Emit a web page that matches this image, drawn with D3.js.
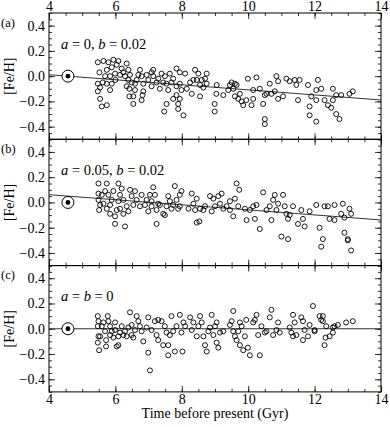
<!DOCTYPE html>
<html><head><meta charset="utf-8">
<script src="https://cdn.jsdelivr.net/npm/d3@7"></script>
<style>
body{margin:0;background:#fff}
svg{display:block}
text{font-family:"Liberation Serif","Times New Roman",serif;fill:#000}
</style>
</head><body>
<svg id="chart" width="390" height="427"></svg>
<script>
// ---------- data ----------
const xTicks = [4, 6, 8, 10, 12, 14];
const yTicks = [-0.4, -0.2, 0.0, 0.2, 0.4];
const panelLabels = ["(a)", "(b)", "(c)"];
const paramA = [0, 0.05, 0];
const paramB = [0.02, 0.02, 0];
const sunAge = 4.57;
const xTitle = "Time before present (Gyr)";
const yTitle = "[Fe/H]";

const panelA = [
[5.47,0.11],[5.52,0.03],[5.47,-0.06],[5.47,-0.12],[5.54,-0.18],[5.59,-0.24],[5.74,-0.23],[5.54,-0.09],[5.62,-0.05],
[5.64,0.12],[5.79,0.11],[5.94,0.13],[5.89,0.07],[5.74,0.05],[5.69,0.0],[5.84,0.0],[5.99,0.02],[6.04,0.09],[6.09,0.12],
[5.74,-0.06],[5.89,-0.06],[5.84,-0.11],[6.0,-0.03],[6.14,0.01],[6.19,0.06],[6.24,0.03],[6.29,0.0],[6.34,0.10],[6.39,0.05],
[6.44,0.01],[6.39,-0.03],[6.34,-0.08],[6.42,-0.10],[6.42,-0.16],[6.54,-0.16],[6.54,-0.22],[6.59,-0.11],[6.59,-0.06],
[6.64,-0.03],[6.49,-0.05],[6.69,0.01],[6.74,0.05],[6.79,0.0],[6.84,-0.06],[6.82,-0.15],[6.79,-0.19],[6.84,-0.12],
[6.94,0.01],[6.99,-0.03],[7.09,0.03],[7.14,0.05],[7.14,0.0],[7.09,-0.08],[7.24,-0.05],[7.29,-0.02],[7.34,-0.10],
[7.39,0.02],[7.44,-0.05],[7.49,0.0],[7.54,-0.06],[7.47,-0.28],[7.54,-0.22],[7.59,-0.11],[7.64,0.02],[7.69,-0.05],
[7.74,-0.02],[7.74,-0.18],[7.84,0.06],[7.84,-0.08],[7.84,-0.15],[7.89,-0.26],[7.89,-0.22],[7.94,0.03],[7.94,-0.06],
[7.94,-0.18],[7.99,-0.11],[8.05,-0.31],[8.1,0.02],[8.15,-0.10],[8.25,-0.05],[8.3,-0.14],[8.35,-0.03],[8.4,0.05],
[8.45,-0.03],[8.5,0.02],[8.55,-0.07],[8.55,-0.16],[8.6,-0.03],[8.65,-0.09],[8.75,0.02],[8.75,-0.06],[8.7,-0.02],
[8.99,-0.22],[8.99,-0.28],[9.04,-0.14],[9.05,-0.07],[9.25,-0.15],[9.4,-0.11],[9.45,-0.07],[9.5,-0.05],[9.55,-0.10],
[9.6,-0.06],[9.6,-0.16],[9.65,-0.07],[9.7,-0.18],[9.75,-0.14],[9.8,-0.20],[9.85,-0.23],[9.94,-0.19],[9.99,-0.02],
[10.1,-0.23],[10.15,-0.18],[10.15,-0.11],[10.25,-0.01],[10.35,-0.10],[10.45,-0.22],[10.5,-0.34],[10.5,-0.38],
[10.5,-0.15],[10.55,-0.14],[10.65,-0.06],[10.7,-0.14],[10.8,-0.12],[10.85,0.0],[10.9,-0.04],[10.9,-0.18],[11.05,-0.16],
[11.15,-0.02],[11.25,-0.04],[11.4,-0.03],[11.45,-0.07],[11.5,-0.19],[11.55,-0.03],[11.8,-0.07],[11.85,-0.24],
[11.85,-0.31],[11.9,-0.16],[12.05,-0.11],[12.05,-0.19],[12.1,-0.03],[12.05,-0.36],[12.2,-0.10],[12.3,-0.19],
[12.4,-0.23],[12.5,-0.25],[12.55,-0.19],[12.55,-0.10],[12.65,-0.15],[12.65,-0.30],[12.75,-0.34],[12.8,-0.15],
[13.05,-0.14],[13.15,-0.12]
];

const panelB = [
[5.49,0.15],[5.49,0.07],[5.49,0.02],[5.51,-0.06],[5.54,-0.02],[5.59,0.06],[5.64,-0.01],[5.69,0.09],[5.74,0.15],
[5.79,0.06],[5.74,-0.05],[5.84,-0.02],[5.84,-0.09],[5.89,0.02],[5.94,0.09],[5.99,-0.11],[5.99,-0.17],[6.04,-0.06],
[6.09,0.01],[6.09,0.15],[6.14,0.06],[6.14,-0.05],[6.19,0.11],[6.24,0.02],[6.24,-0.09],[6.29,-0.19],[6.34,-0.03],
[6.39,-0.07],[6.44,0.10],[6.49,0.05],[6.54,-0.02],[6.59,0.09],[6.64,0.02],[6.74,-0.03],[6.79,0.06],[6.89,-0.02],
[6.94,0.02],[6.99,-0.07],[7.04,0.06],[7.09,0.01],[7.09,-0.03],[7.14,0.12],[7.19,0.06],[7.24,-0.06],[7.29,-0.01],
[7.34,-0.02],[7.44,-0.09],[7.49,-0.10],[7.24,-0.17],[7.54,-0.03],[7.59,0.05],[7.64,0.01],[7.69,-0.05],[7.74,-0.02],
[7.79,0.13],[7.84,0.02],[7.89,-0.05],[7.94,0.06],[7.94,-0.03],[7.99,0.09],[8.2,-0.05],[8.3,0.07],[8.35,-0.01],
[8.4,-0.06],[8.45,0.03],[8.45,-0.16],[8.53,-0.15],[8.55,-0.05],[8.65,-0.06],[8.7,-0.03],[8.85,0.05],[8.95,0.03],
[8.9,-0.07],[9.0,-0.03],[9.1,0.05],[9.15,-0.01],[9.2,0.07],[9.25,-0.05],[9.35,-0.03],[9.45,0.01],[9.45,-0.06],
[9.55,-0.11],[9.6,0.03],[9.65,0.15],[9.7,-0.03],[9.73,0.10],[9.9,-0.05],[9.95,-0.14],[10.05,-0.06],[10.15,-0.03],
[10.2,-0.13],[10.25,-0.02],[10.35,-0.21],[10.45,0.08],[10.55,-0.06],[10.65,-0.03],[10.7,-0.14],[10.75,0.02],
[10.8,0.06],[10.85,-0.06],[10.9,-0.01],[11.0,-0.27],[11.05,0.06],[11.1,-0.03],[11.15,-0.09],[11.2,-0.29],[11.2,-0.13],
[11.25,-0.10],[11.35,-0.03],[11.5,-0.17],[11.6,-0.06],[11.65,-0.13],[11.7,-0.19],[11.85,-0.07],[12.05,-0.02],
[12.15,-0.20],[12.2,-0.35],[12.25,-0.29],[12.3,-0.03],[12.4,-0.03],[12.45,-0.13],[12.6,-0.14],[12.6,-0.02],
[12.8,-0.09],[12.85,-0.01],[12.9,-0.24],[12.9,-0.12],[13.0,-0.30],[13.05,-0.05],[13.1,-0.09],[13.1,-0.38],[13.0,-0.29]
];

const panelC = [
[5.47,0.10],[5.49,0.06],[5.47,0.02],[5.49,-0.06],[5.47,-0.11],[5.51,-0.17],[5.54,-0.06],[5.59,0.02],[5.64,0.05],
[5.69,-0.02],[5.72,-0.09],[5.72,-0.14],[5.77,0.10],[5.79,0.06],[5.84,0.02],[5.84,-0.05],[5.89,-0.02],[5.94,-0.07],
[5.99,0.05],[5.99,-0.01],[6.04,-0.14],[6.09,-0.13],[6.09,-0.06],[6.14,-0.03],[6.19,0.02],[6.24,-0.05],[6.29,-0.02],
[6.34,-0.06],[6.39,0.01],[6.44,0.13],[6.49,0.03],[6.49,-0.05],[6.54,-0.07],[6.59,-0.01],[6.64,0.10],[6.69,0.06],
[6.74,0.02],[6.79,-0.02],[6.84,-0.10],[6.94,0.01],[6.99,0.09],[6.99,-0.19],[7.04,-0.33],[7.09,-0.01],[7.19,0.06],
[7.24,-0.05],[7.29,-0.09],[7.29,0.07],[7.39,0.06],[7.44,-0.13],[7.49,0.02],[7.54,-0.03],[7.59,-0.21],[7.59,-0.13],
[7.64,-0.05],[7.69,0.10],[7.74,-0.02],[7.79,-0.18],[7.84,0.02],[7.94,0.11],[7.99,-0.03],[8.02,-0.18],[8.05,0.05],
[8.1,0.02],[8.25,0.09],[8.3,-0.01],[8.35,0.05],[8.45,-0.06],[8.5,0.02],[8.55,0.10],[8.6,0.05],[8.65,-0.06],
[8.7,-0.13],[8.75,-0.18],[8.8,-0.02],[8.85,0.01],[8.9,0.11],[8.95,-0.05],[9.0,0.02],[9.05,0.05],[9.05,-0.11],
[9.1,-0.15],[9.15,-0.03],[9.25,-0.02],[9.45,0.03],[9.5,0.06],[9.55,0.14],[9.55,-0.02],[9.6,-0.06],[9.65,-0.09],
[9.7,-0.02],[9.75,0.05],[9.75,-0.13],[9.8,0.02],[9.85,-0.17],[9.9,-0.06],[9.94,0.07],[9.99,-0.15],[10.05,-0.21],
[10.15,0.05],[10.2,0.07],[10.25,0.11],[10.3,-0.05],[10.35,-0.21],[10.4,0.02],[10.5,-0.03],[10.55,-0.02],[10.65,0.09],
[10.7,0.15],[10.75,-0.05],[10.85,-0.01],[10.9,0.05],[10.95,-0.03],[11.25,0.01],[11.3,-0.03],[11.35,0.11],
[11.35,-0.06],[11.4,0.05],[11.45,-0.05],[11.6,0.09],[11.65,0.06],[11.65,-0.09],[11.7,-0.01],[11.8,-0.06],
[11.85,0.03],[11.95,0.18],[12.0,-0.01],[12.0,-0.02],[12.15,0.10],[12.2,0.07],[12.25,0.10],[12.25,0.06],[12.3,-0.13],
[12.33,-0.07],[12.35,0.02],[12.45,-0.06],[12.55,-0.03],[12.6,0.02],[12.7,0.03],[12.95,0.05],[13.15,0.06],[12.55,0.01]
];
const panels = [panelA, panelB, panelC];

// ---------- layout ----------
const svg = d3.select("#chart");
const left = 49, right = 381;
const top0 = 13, ph = 126.3;
const FONT = "'Liberation Serif','Times New Roman',serif";

const x = d3.scaleLinear().domain([4, 14]).range([left, right]);
const xMinor = d3.range(4, 14.001, 0.5);
const yMinor = d3.range(-0.5, 0.5001, 0.05);
const fmt = d3.format(".1f");

panels.forEach((data, i) => {
  const top = top0 + i * ph;
  const y = d3.scaleLinear().domain([-0.5, 0.5]).range([top + ph, top]);
  const g = svg.append("g");

  const cid = "clip" + i;
  svg.append("clipPath").attr("id", cid).append("rect")
    .attr("x", left).attr("y", top).attr("width", right - left).attr("height", ph);

  // axes with inward ticks
  const axL = d3.axisLeft(y).tickValues(yTicks).tickSize(-6).tickPadding(4).tickFormat(fmt);
  const axLm = d3.axisLeft(y).tickValues(yMinor).tickSize(-3).tickFormat("");
  const axR = d3.axisRight(y).tickValues(yTicks).tickSize(-6).tickFormat("");
  const axRm = d3.axisRight(y).tickValues(yMinor).tickSize(-3).tickFormat("");
  const axT = d3.axisTop(x).tickValues(xTicks).tickSize(-6).tickPadding(2.5).tickFormat(i === 0 ? d3.format("d") : "");
  const axTm = d3.axisTop(x).tickValues(xMinor).tickSize(-3).tickFormat("");
  const axB = d3.axisBottom(x).tickValues(xTicks).tickSize(-6).tickPadding(2.5).tickFormat(i === 2 ? d3.format("d") : "");
  const axBm = d3.axisBottom(x).tickValues(xMinor).tickSize(-3).tickFormat("");

  const place = (ax, tx, ty) => {
    const a = g.append("g").attr("transform", `translate(${tx},${ty})`).call(ax);
    a.attr("font-family", FONT).attr("font-size", 14);
    a.select(".domain").remove();
    a.selectAll("line").attr("stroke", "#000").attr("stroke-width", 0.8);
    a.selectAll("text").style("font-family", FONT).style("font-size", "14px").attr("fill", "#000");
    return a;
  };
  place(axLm, left, 0); place(axL, left, 0);
  place(axRm, right, 0); place(axR, right, 0);
  place(axTm, 0, top); place(axT, 0, top);
  place(axBm, 0, top + ph); place(axB, 0, top + ph);

  g.append("rect").attr("x", left).attr("y", top).attr("width", right - left).attr("height", ph)
    .attr("fill", "none").attr("stroke", "#000").attr("stroke-width", 1);

  // trend line
  const a = paramA[i], b = paramB[i];
  const line = d3.line().x(d => x(d)).y(d => y(a - b * (d - sunAge)));
  g.append("path").datum([4, 14]).attr("d", line).attr("fill", "none")
    .attr("stroke", "#333").attr("stroke-width", 1).attr("clip-path", `url(#${cid})`);

  // points
  g.append("g").selectAll("circle").data(data).join("circle")
    .attr("cx", d => x(d[0])).attr("cy", d => y(d[1])).attr("r", 2.5)
    .attr("fill", "none").attr("stroke", "#000").attr("stroke-width", 0.9);

  // sun symbol
  g.append("circle").attr("cx", x(sunAge)).attr("cy", y(0)).attr("r", 6)
    .attr("fill", "#fff").attr("stroke", "#000").attr("stroke-width", 1);
  g.append("circle").attr("cx", x(sunAge)).attr("cy", y(0)).attr("r", 2.4).attr("fill", "#000");

  // panel label
  g.append("text").attr("x", 1).attr("y", y(0.4) + 1).style("font-size", "12.5px").text(panelLabels[i]);

  // y title
  g.append("text").attr("transform", `translate(14,${y(0)}) rotate(-90)`)
    .attr("text-anchor", "middle").style("font-size", "14px").text(yTitle);

  // annotation
  const ann = g.append("text").attr("x", 61).attr("y", top + 35.5).style("font-size", "14.5px");
  if (i === 2) {
    ann.append("tspan").style("font-style", "italic").text("a");
    ann.append("tspan").text(" = ");
    ann.append("tspan").style("font-style", "italic").text("b");
    ann.append("tspan").text(" = " + paramA[i]);
  } else {
    ann.append("tspan").style("font-style", "italic").text("a");
    ann.append("tspan").text(" = " + paramA[i] + ", ");
    ann.append("tspan").style("font-style", "italic").text("b");
    ann.append("tspan").text(" = " + paramB[i]);
  }
});

svg.append("text").attr("x", (left + right) / 2).attr("y", 418)
  .attr("text-anchor", "middle").style("font-size", "14px").text(xTitle);
</script>
</body></html>
